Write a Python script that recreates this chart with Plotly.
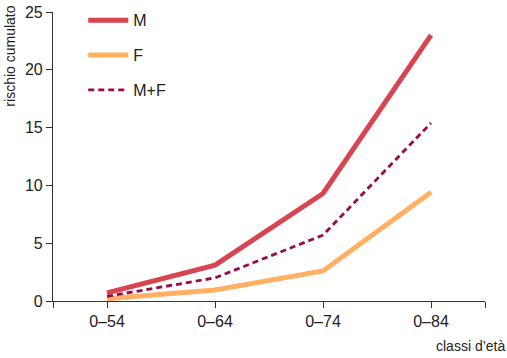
import plotly.graph_objects as go

categories = ["0–54", "0–64", "0–74", "0–84"]
rischio_m = [0.7, 3.1, 9.3, 23.0]
rischio_f = [0.2, 0.95, 2.6, 9.4]
rischio_mf = [0.4, 2.0, 5.7, 15.4]
y_ticks = [0, 5, 10, 15, 20, 25]

xs = list(range(len(categories)))
FONT = "Liberation Sans, Arial, Helvetica, sans-serif"

fig = go.Figure()
fig.add_trace(go.Scatter(x=xs, y=rischio_m, mode="lines", name="M", legendgroup="m",
                         line=dict(color="#d8444f", width=5)))
fig.add_trace(go.Scatter(x=xs, y=rischio_f, mode="lines", name="F", legendgroup="f",
                         line=dict(color="#ffb062", width=5)))
fig.add_trace(go.Scatter(x=xs, y=rischio_mf, mode="lines", name="M+F", legendgroup="mf",
                         line=dict(color="#9a0a46", width=2.8, dash="6px,4px")))

fig.update_layout(
    width=507, height=358,
    margin=dict(l=53, r=22, t=12, b=57, autoexpand=False),
    paper_bgcolor="white", plot_bgcolor="white",
    font=dict(family=FONT, size=16, color="#222"),
    showlegend=True,
    legend=dict(x=0.07, y=1.03, xanchor="left", yanchor="top",
                font=dict(size=16, color="#222"), tracegroupgap=11, itemwidth=40,
                bgcolor="rgba(0,0,0,0)"),
    xaxis=dict(range=[-0.5, len(categories) - 0.5],
               tickvals=[-0.5] + xs + [len(categories) - 0.5],
               ticktext=[""] + categories + [""],
               showgrid=False, zeroline=False, showline=True, linecolor="#333", linewidth=1.2,
               ticks="outside", ticklen=6, tickcolor="#333", tickfont=dict(size=16)),
    yaxis=dict(range=[0, 25], tickvals=y_ticks, showgrid=False, zeroline=False,
               showline=True, linecolor="#333", linewidth=1.2,
               ticks="outside", ticklen=6, tickcolor="#333", tickfont=dict(size=16)),
    annotations=[
        dict(text="rischio cumulato", xref="paper", yref="paper", x=-0.1, y=1.03,
             xanchor="center", yanchor="top", textangle=-90, showarrow=False,
             font=dict(size=14, color="#222")),
        dict(text="classi d\u2019età", xref="paper", yref="paper", x=1.05, y=-0.12,
             xanchor="right", yanchor="top", showarrow=False,
             font=dict(size=14, color="#222")),
    ],
)

fig.write_html("out.html", config={"displayModeBar": False},
               post_script="document.body.style.margin='0';document.body.style.overflow='hidden';")
